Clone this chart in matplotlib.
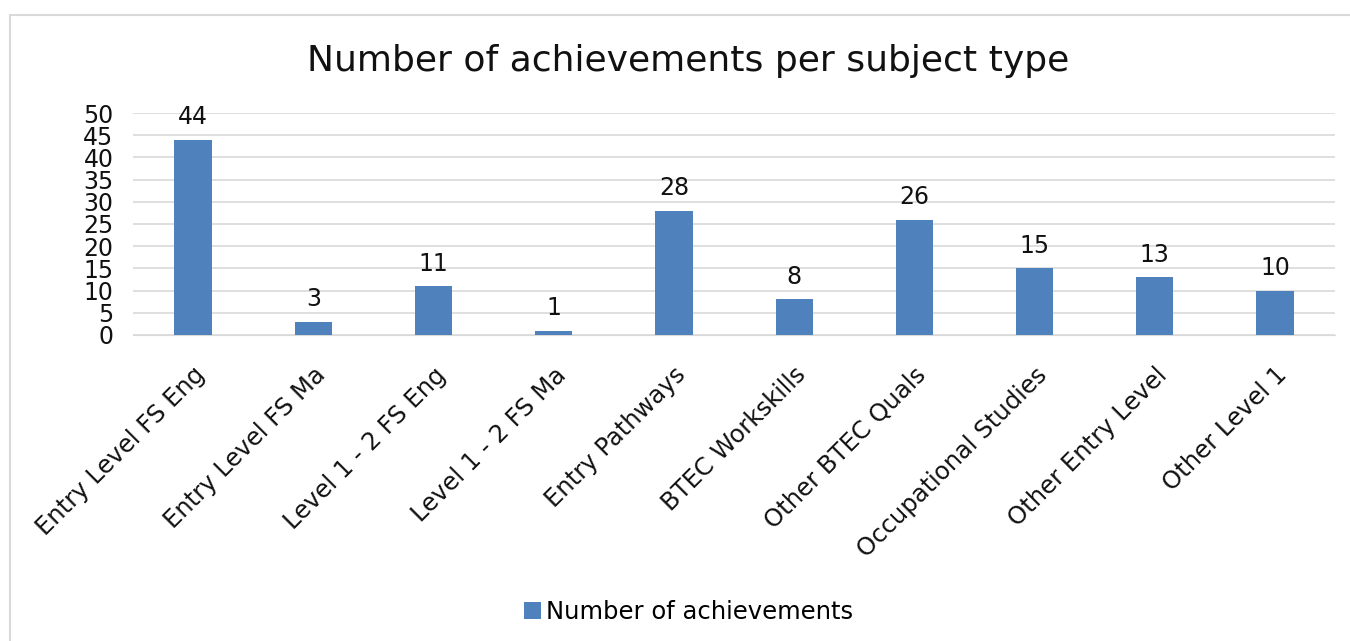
import numpy as np
import matplotlib.pyplot as plt
from matplotlib.patches import Rectangle

plt.rcParams['font.family'] = ['DejaVu Sans']

subjects = ['Entry Level FS Eng', 'Entry Level FS Ma', 'Level 1 - 2 FS Eng',
            'Level 1 - 2 FS Ma', 'Entry Pathways', 'BTEC Workskills',
            'Other BTEC Quals', 'Occupational Studies', 'Other Entry Level',
            'Other Level 1']
achievements = [44, 3, 11, 1, 28, 8, 26, 15, 13, 10]

fig = plt.figure(figsize=(13.5, 6.41), dpi=100)
ax = fig.add_axes([0.0985, 0.4774, 0.8905, 0.3463])

# chart border (runs off right and bottom edge like the original)
fig.patches.append(Rectangle((10 / 1350, -0.1), 1.2, 0.9766 + 0.1,
                             transform=fig.transFigure, fill=False,
                             edgecolor='#d9d9d9', linewidth=1.5))

x = np.arange(len(subjects))
bars = ax.bar(x, achievements, width=0.31, color='#4f81bd',
              label='Number of achievements', zorder=3)

for b, v in zip(bars, achievements):
    ax.text(b.get_x() + b.get_width() / 2, v + 2.3, str(v),
            ha='center', va='bottom', fontsize=17, color='#111111')

ax.set_xlim(-0.5, len(subjects) - 0.5)
ax.set_ylim(0, 50)
ax.set_yticks(np.arange(0, 51, 5))
ax.yaxis.grid(True, color='#d9d9d9', linewidth=1.2, zorder=0)
ax.set_axisbelow(True)
for s in ['top', 'right', 'left']:
    ax.spines[s].set_visible(False)
ax.spines['bottom'].set_color('#d9d9d9')
ax.tick_params(axis='both', length=0, labelsize=17, colors='#111111')
ax.tick_params(axis='y', pad=14)
ax.tick_params(axis='x', pad=20)
ax.set_xticks(x)
ax.set_xticklabels(subjects, rotation=45, ha='right', rotation_mode='anchor',
                   fontsize=17.5)

fig.text(0.51, 0.905, 'Number of achievements per subject type',
         ha='center', va='center', fontsize=26, color='#111111')

fig.legend(handles=[bars], labels=['Number of achievements'],
           loc='center', bbox_to_anchor=(0.51, 0.045), frameon=False,
           fontsize=17.5, handlelength=0.7, handleheight=0.7, handletextpad=0.2)

fig.savefig('out.png', dpi=100)
